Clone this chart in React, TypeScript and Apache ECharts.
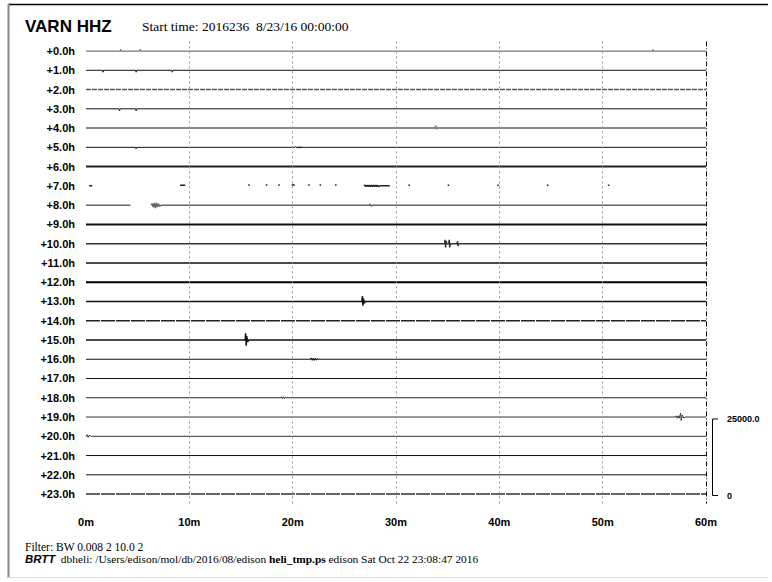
import React, { useEffect, useRef } from "react";
import * as echarts from "echarts";

const hourLabels = [
  "+0.0h", "+1.0h", "+2.0h", "+3.0h", "+4.0h", "+5.0h", "+6.0h", "+7.0h",
  "+8.0h", "+9.0h", "+10.0h", "+11.0h", "+12.0h", "+13.0h", "+14.0h", "+15.0h",
  "+16.0h", "+17.0h", "+18.0h", "+19.0h", "+20.0h", "+21.0h", "+22.0h", "+23.0h",
];
const minuteTicks = [0, 10, 20, 30, 40, 50, 60];
const scaleLabels = ["25000.0", "0"];

// each trace: [minute, amplitude (in row spacings, up = positive)], null amplitude = gap
const trace00 = [[0, 0], [3.3, 0], [3.35, 0.1], [3.4, 0], [5.2, 0], [5.25, 0.1], [5.3, 0], [54.8, 0], [54.85, 0.08], [54.9, 0], [60, 0]];
const trace01 = [[0, 0], [1.6, 0], [1.65, -0.1], [1.7, 0], [4.8, 0], [4.85, -0.1], [4.9, 0], [8.3, 0], [8.35, -0.1], [8.4, 0], [60, 0]];
const trace02 = [[0, 0], [60, 0]];
const trace03 = [[0, 0], [3.2, 0], [3.25, -0.1], [3.3, 0], [4.8, 0], [4.85, -0.1], [4.9, 0], [60, 0]];
const trace04 = [[0, 0], [33.8, 0], [33.85, 0.12], [33.9, -0.05], [34.0, 0], [60, 0]];
const trace05 = [[0, 0], [4.8, 0], [4.85, -0.08], [4.9, 0], [20.2, 0], [20.3, 0.04], [20.4, -0.04], [20.5, 0.04], [20.6, -0.04], [20.7, 0.04], [20.8, -0.04], [20.9, 0.03], [21.0, -0.03], [21.1, 0.03], [21.2, -0.03], [21.3, 0], [60, 0]];
const trace06 = [[0, 0], [60, 0]];
const trace07 = [
  [0.3, 0], [0.6, 0], [0.6, null],
  [9.1, 0.03], [9.6, 0.03], [9.6, null],
  [15.7, 0.05], [15.85, 0.05], [15.85, null],
  [17.4, 0.05], [17.55, 0.05], [17.55, null],
  [18.6, 0.05], [18.75, 0.05], [18.75, null],
  [19.9, 0.05], [20.2, 0.05], [20.2, null],
  [21.5, 0.05], [21.65, 0.05], [21.65, null],
  [22.6, 0.05], [22.75, 0.05], [22.75, null],
  [24.1, 0.05], [24.25, 0.05], [24.25, null],
  [26.9, 0], [27.0, 0.04], [27.1, -0.04], [27.2, 0.04], [27.3, -0.04], [27.4, 0.04], [27.5, -0.04], [27.6, 0.04], [27.7, -0.04], [27.8, 0.04], [27.9, -0.04], [28.0, 0.03], [28.1, -0.03], [28.2, 0.03], [28.3, -0.03], [28.5, 0], [29.4, 0], [29.4, null],
  [31.2, 0.03], [31.35, 0.03], [31.35, null],
  [35.0, 0.03], [35.15, 0.03], [35.15, null],
  [39.8, 0.03], [39.95, 0.03], [39.95, null],
  [44.6, 0.03], [44.75, 0.03], [44.75, null],
  [50.5, 0.03], [50.65, 0.03], [50.65, null],
];
const trace08 = [[0, 0], [4.3, 0], [4.3, null], [6.3, 0], [6.4, 0.08], [6.5, -0.1], [6.6, 0.12], [6.7, -0.15], [6.8, 0.12], [6.9, -0.1], [7.0, 0.08], [7.1, -0.06], [7.3, 0], [27.4, 0], [27.5, 0.06], [27.6, -0.06], [27.7, 0], [60, 0]];
const trace09 = [[0, 0], [60, 0]];
const trace10 = [[0, 0], [34.7, 0], [34.75, 0.2], [34.8, -0.2], [34.85, 0.15], [34.9, 0], [35.1, 0], [35.15, 0.2], [35.2, -0.2], [35.25, 0], [35.9, 0], [35.95, 0.12], [36, -0.12], [36.05, 0], [60, 0]];
const trace11 = [[0, 0], [60, 0]];
const trace12 = [[0, 0], [60, 0]];
const trace13 = [[0, 0], [26.7, 0], [26.75, 0.28], [26.8, -0.22], [26.85, 0.15], [26.95, -0.08], [27.05, 0], [60, 0]];
const trace14 = [[0, 0], [60, 0]];
const trace15 = [[0, 0], [15.4, 0], [15.45, 0.35], [15.5, -0.3], [15.55, 0.2], [15.65, -0.1], [15.75, 0], [60, 0]];
const trace16 = [[0, 0], [21.7, 0], [21.8, 0.05], [21.9, -0.05], [22.0, 0.05], [22.1, -0.05], [22.2, 0.04], [22.3, -0.04], [22.4, 0.03], [22.5, 0], [60, 0]];
const trace17 = [[0, 0], [60, 0]];
const trace18 = [[0, 0], [18.8, 0], [18.9, 0.05], [19.0, -0.05], [19.1, 0.05], [19.2, -0.05], [19.3, 0.04], [19.4, 0], [60, 0]];
const trace19 = [[0, 0], [57.0, 0], [57.1, 0.06], [57.2, -0.06], [57.3, 0.06], [57.4, -0.06], [57.55, 0.2], [57.6, -0.18], [57.7, 0.1], [57.85, -0.05], [58, 0], [60, 0]];
const trace20 = [[0, 0], [0.1, 0.08], [0.2, -0.06], [0.3, 0.05], [0.5, 0], [60, 0]];
const trace21 = [[0, 0], [60, 0]];
const trace22 = [[0, 0], [60, 0]];
const trace23 = [[0, 0], [60, 0]];

const traces = [
  trace00, trace01, trace02, trace03, trace04, trace05, trace06, trace07,
  trace08, trace09, trace10, trace11, trace12, trace13, trace14, trace15,
  trace16, trace17, trace18, trace19, trace20, trace21, trace22, trace23,
];

// visual styles per row
const rowStyles: { c: string; w: number; t?: any }[] = [
  { c: "#777", w: 1.2 },
  { c: "#111", w: 1 },
  { c: "#555", w: 1.5, t: [5, 1] },
  { c: "#111", w: 1 },
  { c: "#888", w: 2 },
  { c: "#111", w: 1 },
  { c: "#222", w: 2 },
  { c: "#222", w: 1.5 },
  { c: "#666", w: 1.5 },
  { c: "#111", w: 2 },
  { c: "#333", w: 1.5 },
  { c: "#111", w: 1.5 },
  { c: "#000", w: 2 },
  { c: "#111", w: 1.5 },
  { c: "#222", w: 1.5, t: [14, 1] },
  { c: "#111", w: 1.5 },
  { c: "#111", w: 1.2 },
  { c: "#111", w: 1.2 },
  { c: "#222", w: 1 },
  { c: "#333", w: 1 },
  { c: "#333", w: 1 },
  { c: "#111", w: 1 },
  { c: "#111", w: 1 },
  { c: "#333", w: 1.5, t: [14, 1] },
];

const SANS = '"Liberation Sans", Arial, sans-serif';
const SERIF = '"Liberation Serif", "Times New Roman", serif';

export default function App() {
  const ref = useRef<HTMLDivElement>(null);
  useEffect(() => {
    document.body.style.margin = "0";
    if (!ref.current) return;
    const chart = echarts.init(ref.current, null, { renderer: "svg" });

    const series: any[] = traces.map((tr, i) => ({
      type: "line",
      xAxisIndex: 0,
      yAxisIndex: 1,
      symbol: "none",
      silent: true,
      connectNulls: false,
      lineStyle: { color: rowStyles[i].c, width: rowStyles[i].w, type: rowStyles[i].t || "solid" },
      data: tr.map((p) => [p[0], p[1] === null ? "-" : i - (p[1] as number)]),
    }));

    series[0].markLine = {
      silent: true,
      symbol: ["none", "none"],
      label: { show: false },
      data: minuteTicks
        .filter((m) => m > 0)
        .map((m) => ({
          xAxis: m,
          lineStyle:
            m === 60
              ? { color: "#000", width: 1, type: [5, 2, 1, 2] }
              : { color: "#999", width: 1, type: [2, 3] },
        })),
    };

    chart.setOption({
      animation: false,
      backgroundColor: "#fff",
      grid: { left: 86, right: 66, top: 41.4, bottom: 78.3 },
      xAxis: {
        type: "value",
        min: 0,
        max: 60,
        interval: 10,
        axisLine: { show: false },
        axisTick: { show: false },
        splitLine: { show: false },
        axisLabel: {
          formatter: "{value}m",
          fontFamily: SANS,
          fontWeight: "bold",
          fontSize: 11,
          color: "#000",
          margin: 13,
        },
      },
      yAxis: [
        {
          type: "category",
          inverse: true,
          data: hourLabels,
          axisLine: { show: false },
          axisTick: { show: false },
          splitLine: { show: false },
          axisLabel: {
            fontFamily: SANS,
            fontWeight: "bold",
            fontSize: 11,
            color: "#000",
            margin: 11,
          },
        },
        {
          type: "value",
          inverse: true,
          min: -0.5,
          max: 23.5,
          show: false,
          splitLine: { show: false },
        },
      ],
      series,
      graphic: [
        { type: "line", shape: { x1: 8, y1: 4.5, x2: 768, y2: 4.5 }, style: { stroke: "#000", lineWidth: 1.5 } },
        { type: "line", shape: { x1: 8.5, y1: 4, x2: 8.5, y2: 578 }, style: { stroke: "#888", lineWidth: 2 } },
        { type: "line", shape: { x1: 8, y1: 577.5, x2: 768, y2: 577.5 }, style: { stroke: "#ddd", lineWidth: 1 } },
        {
          type: "text",
          x: 25,
          y: 26,
          style: { text: "VARN HHZ", font: `bold 17px ${SANS}`, fill: "#000", verticalAlign: "middle" },
        },
        {
          type: "text",
          x: 142,
          y: 26.5,
          style: { text: "Start time: 2016236  8/23/16 00:00:00", font: `13.5px ${SERIF}`, fill: "#000", verticalAlign: "middle" },
        },
        {
          type: "text",
          x: 25,
          y: 547,
          style: { text: "Filter: BW 0.008 2 10.0 2", font: `11.5px ${SERIF}`, fill: "#000", verticalAlign: "middle" },
        },
        {
          type: "text",
          x: 25,
          y: 558.5,
          style: {
            text: "{b|BRTT}  dbheli: /Users/edison/mol/db/2016/08/edison {h|heli_tmp.ps} edison Sat Oct 22 23:08:47 2016",
            font: `11.4px ${SERIF}`,
            fill: "#000",
            verticalAlign: "middle",
            rich: {
              b: { fontFamily: SANS, fontWeight: "bold", fontStyle: "italic", fontSize: 11.4, fill: "#000" },
              h: { fontFamily: SERIF, fontWeight: "bold", fontSize: 11.4, fill: "#000" },
            },
          },
        },
        {
          type: "polyline",
          shape: { points: [[718, 419], [712.5, 419], [712.5, 495.5], [718, 495.5]] },
          style: { stroke: "#000", lineWidth: 1, fill: "none" },
        },
        {
          type: "text",
          x: 727,
          y: 419,
          style: { text: scaleLabels[0], font: `bold 9px ${SANS}`, fill: "#000", verticalAlign: "middle" },
        },
        {
          type: "text",
          x: 727,
          y: 496,
          style: { text: scaleLabels[1], font: `bold 9px ${SANS}`, fill: "#000", verticalAlign: "middle" },
        },
      ],
    });
    return () => chart.dispose();
  }, []);
  return <div ref={ref} style={{ width: 772, height: 582 }} />;
}
